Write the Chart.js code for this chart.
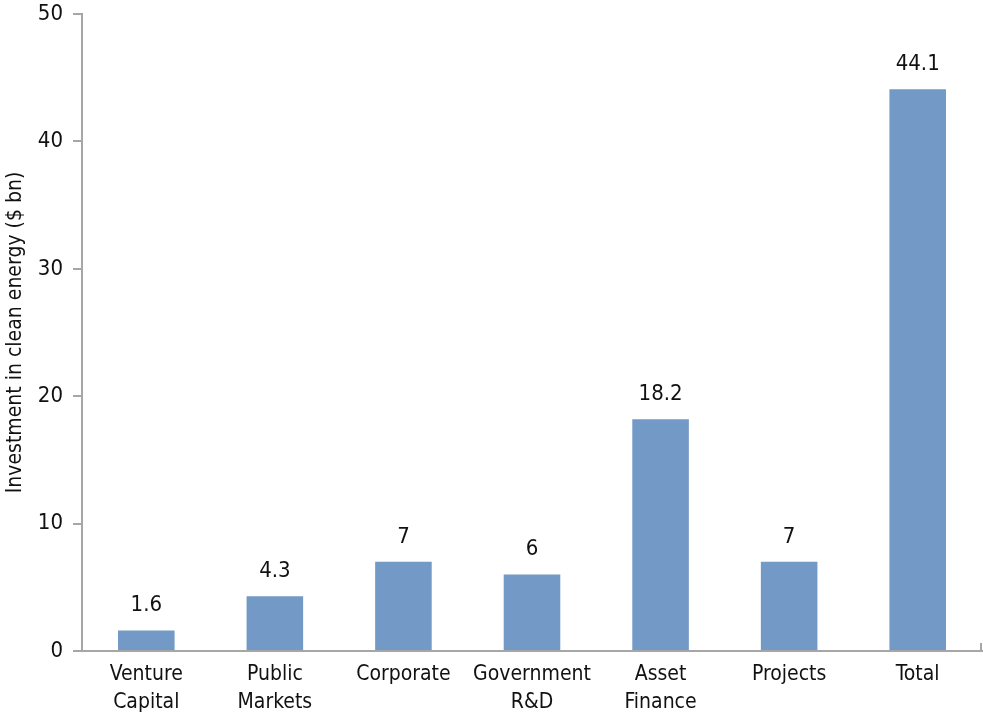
<!DOCTYPE html>
<html>
<head>
<meta charset="utf-8">
<script src="https://cdn.jsdelivr.net/npm/chart.js@4/dist/chart.umd.min.js"></script>
<style>
  html, body { margin: 0; padding: 0; background: #fff; }
  #wrap { width: 983px; height: 717px; }
</style>
</head>
<body>
<div id="wrap"><canvas id="c" width="983" height="717"></canvas></div>
<script>
// Clean energy investment by financing stage ($ bn)
const categories = [["Venture", "Capital"], ["Public", "Markets"], "Corporate", ["Government", "R&D"], ["Asset", "Finance"], "Projects", "Total"];
const investment = [1.6, 4.3, 7, 6, 18.2, 7, 44.1];
const valueLabels = ["1.6", "4.3", "7", "6", "18.2", "7", "44.1"];
const yTicks = [0, 10, 20, 30, 40, 50];

const FONT = '"Liberation Sans Narrow", "DejaVu Sans Condensed", "Roboto Condensed", sans-serif';
const AXIS = '#a6a6a6';

// Value labels above each bar
const barLabels = {
  id: 'barLabels',
  afterDatasetsDraw(chart) {
    const ctx = chart.ctx;
    const meta = chart.getDatasetMeta(0);
    ctx.save();
    ctx.font = '22px ' + FONT;
    ctx.fillStyle = '#111';
    ctx.textAlign = 'center';
    ctx.textBaseline = 'middle';
    meta.data.forEach((bar, i) => {
      ctx.fillText(valueLabels[i], bar.x, bar.y - 25);
    });
    ctx.restore();
  }
};

// Small closing tick at the right end of the category axis
const endTick = {
  id: 'endTick',
  afterDraw(chart) {
    const { ctx, chartArea } = chart;
    const y = chart.scales.y.getPixelForValue(0);
    ctx.save();
    ctx.strokeStyle = AXIS;
    ctx.lineWidth = 2;
    ctx.beginPath();
    ctx.moveTo(chartArea.right - 1, y);
    ctx.lineTo(chartArea.right - 1, y - 8);
    ctx.stroke();
    ctx.restore();
  }
};

new Chart(document.getElementById('c'), {
  type: 'bar',
  data: {
    labels: categories,
    datasets: [{
      data: investment,
      backgroundColor: '#7399c6',
      borderWidth: 0,
      barPercentage: 0.44,
      categoryPercentage: 1.0
    }]
  },
  options: {
    responsive: false,
    animation: false,
    devicePixelRatio: 1,
    layout: { padding: { top: 14, right: 1, bottom: 0, left: 0 } },
    plugins: { legend: { display: false }, tooltip: { enabled: false } },
    scales: {
      x: {
        grid: { display: false, drawOnChartArea: false },
        border: { display: true, color: AXIS, width: 2 },
        ticks: {
          color: '#111',
          font: { family: FONT, size: 21, lineHeight: 1.33 },
          padding: 2,
          maxRotation: 0,
          autoSkip: false
        },
        afterFit(scale) { scale.height = 66; }
      },
      y: {
        min: 0,
        max: 50,
        afterBuildTicks(scale) { scale.ticks = yTicks.map(v => ({ value: v })); },
        grid: {
          drawOnChartArea: false,
          drawTicks: true,
          tickLength: 9,
          color: AXIS,
          lineWidth: 2
        },
        border: { display: true, color: AXIS, width: 2 },
        ticks: {
          color: '#111',
          font: { family: FONT, size: 22 },
          padding: 10
        },
        title: {
          display: true,
          text: 'Investment in clean energy ($ bn)',
          color: '#111',
          font: { family: FONT, size: 21 },
          padding: { top: 3, bottom: 0 }
        },
        afterFit(scale) {
          scale.width = 82;
          scale.paddingTop = 0;
          scale.paddingBottom = 0;
        }
      }
    }
  },
  plugins: [barLabels, endTick]
});
</script>
</body>
</html>
